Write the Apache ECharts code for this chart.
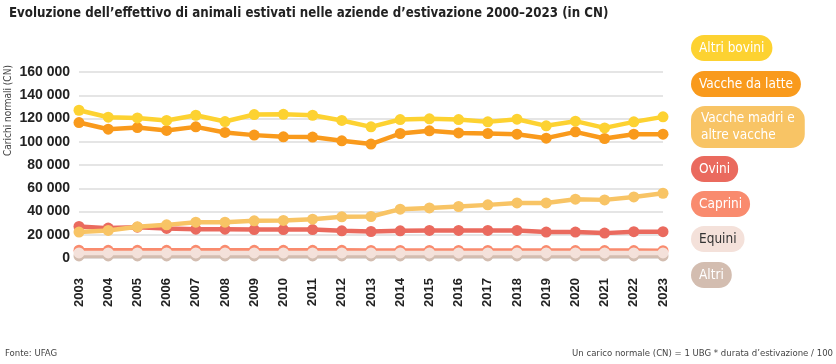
<!DOCTYPE html>
<html><head><meta charset="utf-8">
<script src="https://cdn.jsdelivr.net/npm/echarts@6/dist/echarts.min.js"></script>
<style>html,body{margin:0;padding:0;background:#fff}#c{width:836px;height:364px}</style>
</head><body><div id="c"></div>
<script>
const years = ['2003','2004','2005','2006','2007','2008','2009','2010','2011','2012','2013','2014','2015','2016','2017','2018','2019','2020','2021','2022','2023'];
const altriBovini = [127100,121100,120500,118300,122800,117400,123400,123600,122800,118300,112800,119100,119700,119100,117100,119400,113700,117700,111900,117100,121400];
const vaccheLatte = [116500,110800,112200,109700,112800,108000,105700,104200,104000,100800,98000,107100,109400,107600,107100,106500,103100,108500,102800,106500,106500];
const vaccheMadri = [22300,23700,26800,28500,30800,30800,32000,32300,33400,35400,35700,42000,43100,44300,45700,47400,47400,50600,50000,52500,55700];
const ovini = [27100,25700,26500,25400,24800,24800,24500,24500,24500,23400,22800,23400,23700,23700,23700,23700,22300,22300,21400,22600,22600];
const caprini = [6700,6600,6600,6600,6600,6600,6600,6600,6600,6600,6500,6500,6500,6500,6500,6400,6400,6400,6400,6400,6300];
const equini = [4400,4400,4400,4400,4400,4400,4400,4400,4400,4400,4400,4400,4400,4400,4400,4400,4400,4400,4400,4400,4400];
const altri = [1800,1800,1800,1800,1800,1800,1800,1800,1800,1800,1800,1800,1800,1800,1800,1800,1800,1800,1800,1800,1800];
const seriesNames = ['Altri bovini','Vacche da latte','Vacche madri e altre vacche','Ovini','Caprini','Equini','Altri'];
const yTicks = [0,20000,40000,60000,80000,100000,120000,140000,160000];

const colors = ['#FDD231','#F99A1C','#F8C465','#EA6A5E','#F98B6E','#F4E1DA','#D3BDB0'];
const textColors = ['#fff','#fff','#fff','#fff','#fff','#333','#fff'];
const dataSets = [altriBovini,vaccheLatte,vaccheMadri,ovini,caprini,equini,altri];
const zs = [9,8,7,6,4,5,3];
const legendTops = [35,71,106,156,191,226,262];
const FONT = '"DejaVu Sans Condensed","Noto Sans",sans-serif';

const chart = echarts.init(document.getElementById('c'));
const fmt = v => String(v).replace(/\B(?=(\d{3})+(?!\d))/g, ' ');
chart.setOption({
  animation:false,
  textStyle:{fontFamily:FONT},
  title:{text:'Evoluzione dell’effettivo di animali estivati nelle aziende d’estivazione 2000–2023 (in CN)',left:4,top:2,
    textStyle:{fontSize:13.2,fontWeight:'bold',color:'#222',fontFamily:FONT}},
  grid:{left:79,right:173,top:72,bottom:106},
  xAxis:{type:'category',data:years,boundaryGap:false,
    axisLine:{show:false},axisTick:{show:false},
    axisLabel:{rotate:90,margin:20,fontSize:13,fontWeight:'bold',color:'#222',fontFamily:'"Liberation Sans",Arial,sans-serif'}},
  yAxis:{type:'value',min:0,max:160000,interval:20000,
    axisLabel:{formatter:v=>fmt(v),fontSize:14,fontWeight:'bold',color:'#222',margin:9,fontFamily:'"Liberation Sans",Arial,sans-serif'},
    splitLine:{lineStyle:{color:'#dcdcdc',width:1.5}}},
  legend: seriesNames.map((n,i)=>({
    data:[n],left:686,top:legendTops[i],padding:0,itemWidth:0,itemHeight:0,icon:'rect',selectedMode:true,
    formatter:name=>name==='Vacche madri e altre vacche'?'Vacche madri e\naltre vacche':name,
    textStyle:{color:textColors[i],backgroundColor:colors[i],borderRadius:14,padding:i===2?[4,10,4,10]:[5,8,5,8],
      fontSize:13.5,lineHeight:i===2?17:16,fontFamily:FONT}
  })),
  graphic:[
    {type:'text',style:{text:'Carichi normali (CN)',fontSize:10,fill:'#444',fontFamily:FONT},rotation:Math.PI/2,x:3,y:156},
    {type:'text',left:5,top:349,style:{text:'Fonte: UFAG',fontSize:9.5,fill:'#444',fontFamily:FONT}},
    {type:'text',right:3,top:349,style:{text:'Un carico normale (CN) = 1 UBG * durata d’estivazione / 100',fontSize:9.5,fill:'#444',fontFamily:FONT}}
  ],
  series: seriesNames.map((n,i)=>({
    name:n,type:'line',data:dataSets[i],z:zs[i],symbol:'circle',symbolSize:11,showSymbol:true,
    itemStyle:{color:colors[i]},lineStyle:{color:colors[i],width:4.5},
    emphasis:{disabled:true}
  }))
});
</script></body></html>
